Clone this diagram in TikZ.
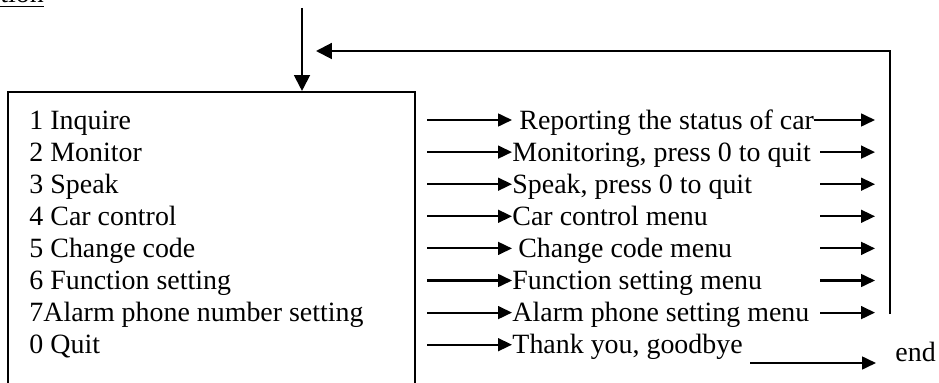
\documentclass[tikz,border=0pt]{standalone}
\usepackage{fontspec}
\setmainfont{Liberation Serif}
\usetikzlibrary{positioning,arrows.meta,fit}
\tikzset{
  menubox/.style={draw, line width=0.9pt, inner sep=0pt},
  item/.style   ={anchor=west, inner xsep=0pt, inner ysep=0pt,
                  font=\fontsize{12pt}{14pt}\selectfont,
                  text height=9.8pt, text depth=2pt},
  flow/.style   ={-{Triangle[length=6pt,width=5.5pt]}, line width=0.9pt},
  bigflow/.style={-{Triangle[length=6.8pt,width=6.8pt]}, line width=0.9pt},
}

\begin{document}
\begin{tikzpicture}[x=0.43pt,y=-0.43pt]
  \useasboundingbox (0,0) rectangle (939,383);

  % heading, cut by the page edge
  \node[item, anchor=base west] (title) at (0,3) {\underline{tion}};

  % main menu
  \node[menubox, fit={(8,92) (415,400)}] (menu) {};
  \coordinate (start) at (302,8);
  \draw[bigflow] (start) -- (start |- menu.north);

  \foreach [count=\i] \t in {{1 Inquire},{2 Monitor},{3 Speak},{4 Car control},
      {5 Change code},{6 Function setting},{7Alarm phone number setting},{0 Quit}} {
    \pgfmathsetmacro\yy{120+32.1*(\i-1)}
    \node[item] (opt\i) at (29,\yy) {\t};
  }

  % answers
  \foreach [count=\i] \t in {{\hspace{3pt}Reporting the status of car},
      {Monitoring, press 0 to quit},{Speak, press 0 to quit},{Car control menu},
      {\hspace{2.5pt}Change code menu},{Function setting menu},
      {Alarm phone setting menu},{Thank you, goodbye}} {
    \pgfmathsetmacro\yy{120+32.1*(\i-1)}
    \coordinate (l\i) at (427,\yy);
    \node[item] (res\i) at (512,\yy) {\t};
    \draw[flow] (l\i) -- (res\i.west);
  }

  % back to the menu
  \coordinate (re1) at (875,120);
  \draw[flow] (res1.east) -- (re1);
  \foreach \i in {2,...,7} {
    \pgfmathsetmacro\yy{120+32.1*(\i-1)}
    \coordinate (rs\i) at (820,\yy);
    \coordinate (re\i) at (875,\yy);
    \draw[flow] (rs\i) -- (re\i);
  }
  \coordinate (loopbot) at (890,314);
  \coordinate (back) at (316,51);
  \draw[bigflow] (loopbot) |- (back);

  % quit
  \node[item] (finish) at (895,352) {end};
  \coordinate (q1) at (750,363);
  \coordinate (q2) at (876,363);
  \draw[flow] (q1) -- (q2);
\end{tikzpicture}
\end{document}
